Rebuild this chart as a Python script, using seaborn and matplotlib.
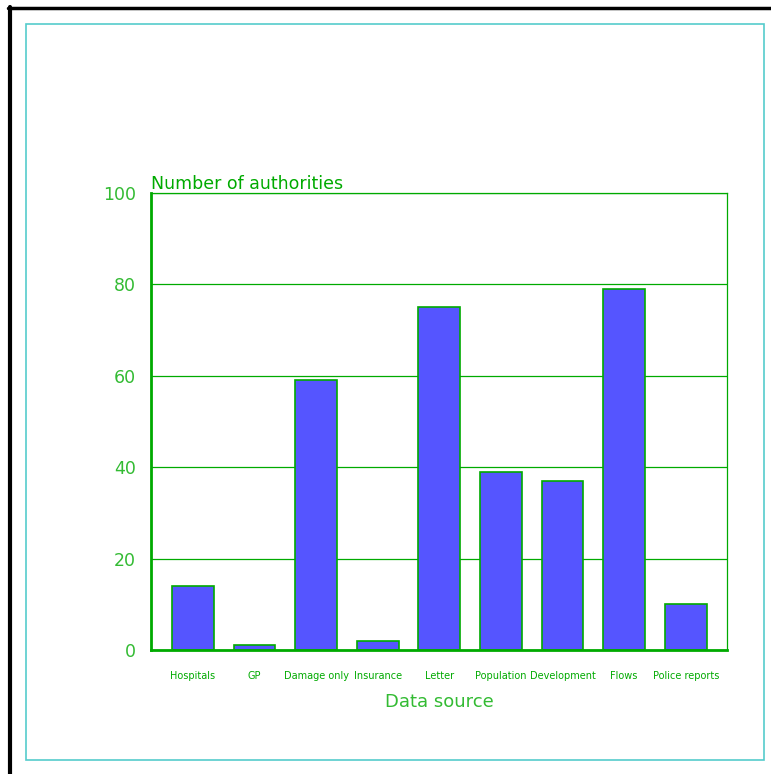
import seaborn as sns
import matplotlib
matplotlib.use("Agg")
import matplotlib.pyplot as plt
import pandas as pd
from matplotlib.patches import Rectangle
from matplotlib.lines import Line2D

sources = ['Hospitals', 'GP', 'Damage only', 'Insurance', 'Letter',
           'Population', 'Development', 'Flows', 'Police reports']
counts = [14, 1, 59, 2, 75, 39, 37, 79, 10]
yticks = [0, 20, 40, 60, 80, 100]

green = '#00aa00'
light_green = '#33bb33'
blue = '#5555ff'
cyan = '#55cccc'

sns.set_style('white')
plt.rcParams['font.family'] = ['DejaVu Sans']

df = pd.DataFrame({'source': sources, 'count': counts})

fig = plt.figure(figsize=(7.71, 7.74), dpi=100)
ax = fig.add_axes([151/771, 1-650/774, 576/771, 457/774])

sns.barplot(data=df, x='source', y='count', ax=ax, color=blue,
            saturation=1, width=0.68, edgecolor=green, linewidth=1.2)

ax.set_xlim(-0.68, 8.67)
ax.set_ylim(0, 100)
ax.set_yticks(yticks)
ax.yaxis.grid(True, color=green, linewidth=0.9)
ax.set_axisbelow(True)
ax.tick_params(axis='both', length=0)
ax.tick_params(axis='y', labelsize=12.5, pad=11, labelcolor=light_green)
ax.tick_params(axis='x', labelsize=7, pad=15, labelcolor=green)
for s in ax.spines.values():
    s.set_color(green)
    s.set_linewidth(0.9)
ax.spines['left'].set_linewidth(2)
ax.spines['bottom'].set_linewidth(2)

ax.set_xlabel('Data source', color=light_green, fontsize=13, labelpad=9)
ax.set_ylabel('')
ax.text(0, 1.0, 'Number of authorities', transform=ax.transAxes,
        color=green, fontsize=12.5, ha='left', va='bottom')

# frames around the plot
fig.patches.append(Rectangle((26/771, 1-760/774), 738/771, 736/774,
                             transform=fig.transFigure, fill=False,
                             edgecolor=cyan, linewidth=1.2))
fig.lines.append(Line2D([9.5/771, 9.5/771], [0, 1-7/774],
                        transform=fig.transFigure, color='black', linewidth=3))
fig.lines.append(Line2D([8/771, 1], [1-7.5/774, 1-7.5/774],
                        transform=fig.transFigure, color='black', linewidth=2.5))

fig.savefig('out.png', dpi=100)
